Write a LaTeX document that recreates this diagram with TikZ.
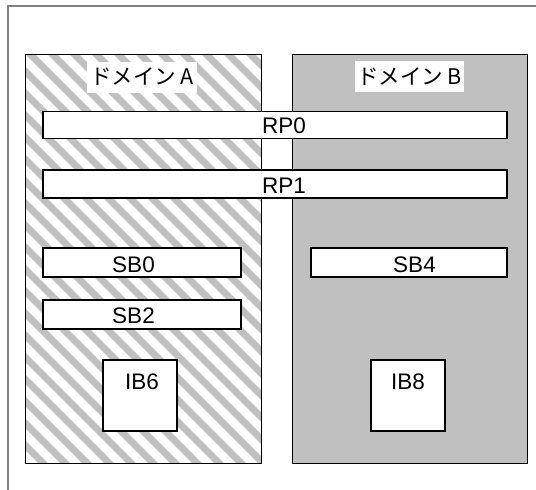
\documentclass[tikz,border=0pt]{standalone}
\usepackage{fontspec}
\setmainfont{Liberation Sans}
\newfontfamily\jpfont{Noto Sans CJK JP}
\definecolor{stripegray}{RGB}{192,192,192}
\definecolor{framegray}{RGB}{128,128,128}
\begin{document}
\begin{tikzpicture}[x=1pt,y=-1pt,
  domainbox/.style={draw=black,line width=1pt},
  whitebox/.style={draw=black,fill=white,line width=1.2pt,inner sep=0pt},
  txt/.style={font=\fontsize{22.5}{24}\selectfont,inner sep=0pt},
  jplabel/.style={fill=white,inner sep=0pt,minimum width=110pt,minimum height=31pt,font=\jpfont\fontsize{21.5}{24}\selectfont}]
\useasboundingbox (0,0) rectangle (536,490);
% outer frame
\draw[framegray,line width=1.5pt] (8,495) -- (8,6) -- (540,6);
% domain A with stripes
\coordinate (a1) at (25,54);
\coordinate (a2) at (261,463);
\begin{scope}
  \clip (a1) rectangle (a2);
  \fill[white] (a1) rectangle (a2);
  \foreach \k in {-22,...,12}{
    \draw[stripegray,line width=7pt] ({-24+22*\k},0) -- ({-24+22*\k+500},500);
  }
\end{scope}
\draw[domainbox] (a1) rectangle (a2);
% domain B
\coordinate (b1) at (292,54);
\coordinate (b2) at (527,463);
\draw[domainbox,fill=stripegray] (b1) rectangle (b2);
% labels
\node[jplabel] (la) at (142,77) {ドメイン A};
\node[jplabel,minimum width=109pt] (lb) at (409.5,76.5) {ドメイン B};
% RP boxes
\node[whitebox,minimum width=464pt,minimum height=27pt] (rp0) at (275,125) {};
\node[txt] (rp0t) at (284,126) {RP0};
\node[whitebox,minimum width=464pt,minimum height=28pt] (rp1) at (275,184) {};
\node[txt] (rp1t) at (284,186) {RP1};
% SB boxes
\node[whitebox,minimum width=198pt,minimum height=29pt] (sb0) at (142,262.5) {};
\node[txt] (sb0t) at (133.5,264.5) {SB0};
\node[whitebox,minimum width=198pt,minimum height=29pt] (sb2) at (142,314.5) {};
\node[txt] (sb2t) at (133.5,316) {SB2};
\node[whitebox,minimum width=196pt,minimum height=29pt] (sb4) at (409,262.5) {};
\node[txt] (sb4t) at (414.5,264.5) {SB4};
% IB boxes
\node[whitebox,minimum width=74pt,minimum height=71pt] (ib6) at (140,395.5) {};
\node[txt] (ib6t) at (142,381.5) {IB6};
\node[whitebox,minimum width=74pt,minimum height=71pt] (ib8) at (408,395.5) {};
\node[txt] (ib8t) at (408,381.5) {IB8};
\end{tikzpicture}
\end{document}
